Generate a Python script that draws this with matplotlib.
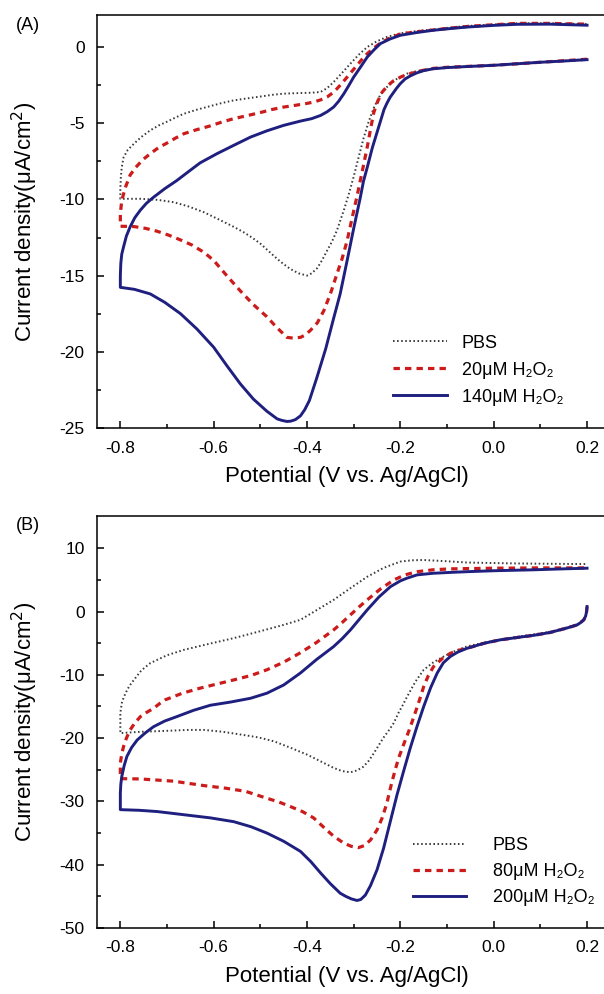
import numpy as np
import matplotlib.pyplot as plt

plt.rcParams['font.family'] = ['Liberation Sans', 'DejaVu Sans']
plt.rcParams['axes.unicode_minus'] = False

# x ticks shared by both panels
x_ticks = [-0.8, -0.6, -0.4, -0.2, 0.0, 0.2]
x_tick_labels = ['-0.8', '-0.6', '-0.4', '-0.2', '0.0', '0.2']

# ---- panel A : each loop runs lower branch 0.2 -> -0.8, then upper branch -0.8 -> 0.2
a_pbs_v = [0.2, 0.1, 0.0, -0.1, -0.129, -0.16, -0.186, -0.208, -0.229, -0.244, -0.257, -0.268,
           -0.279, -0.29, -0.3, -0.31, -0.321, -0.336, -0.347, -0.357, -0.368, -0.378, -0.39,
           -0.4, -0.418, -0.436, -0.45, -0.464, -0.482, -0.5, -0.518, -0.536, -0.557, -0.59,
           -0.621, -0.655, -0.686, -0.72, -0.757, -0.8,
           -0.8, -0.799, -0.797, -0.793, -0.784, -0.771, -0.755, -0.736, -0.718, -0.7, -0.682,
           -0.664, -0.637, -0.61, -0.583, -0.557, -0.528, -0.5, -0.475, -0.45, -0.414, -0.39,
           -0.371, -0.357, -0.343, -0.325, -0.307, -0.289, -0.271, -0.25, -0.229, -0.2, -0.165,
           -0.129, -0.093, -0.057, 0.0, 0.05, 0.12, 0.2]
a_pbs_i = [-0.8, -1.0, -1.2, -1.35, -1.42, -1.55, -1.75, -2.1, -2.63, -3.2, -4.0, -4.9,
           -6.0, -7.3, -8.5, -9.6, -10.7, -12.04, -12.8, -13.36, -14.0, -14.5, -14.85,
           -15.0, -14.85, -14.56, -14.25, -13.9, -13.4, -12.9, -12.5, -12.15, -11.8, -11.3,
           -10.84, -10.45, -10.18, -10.03, -9.96, -9.96,
           -9.3, -8.6, -7.9, -7.23, -6.75, -6.35, -5.9, -5.47, -5.15, -4.9, -4.63,
           -4.38, -4.12, -3.9, -3.68, -3.5, -3.37, -3.25, -3.14, -3.06, -3.02, -3.0,
           -2.95, -2.7, -2.3, -1.7, -1.09, -0.5, 0.0, 0.38, 0.66, 0.9, 1.05,
           1.15, 1.28, 1.38, 1.48, 1.55, 1.56, 1.5]

a_20_v = [0.2, 0.1, 0.0, -0.1, -0.129, -0.155, -0.179, -0.198, -0.214, -0.228, -0.24, -0.249,
          -0.257, -0.264, -0.271, -0.282, -0.293, -0.304, -0.314, -0.325, -0.336, -0.35, -0.364,
          -0.378, -0.393, -0.404, -0.414, -0.43, -0.443, -0.465, -0.486, -0.515, -0.543, -0.572,
          -0.6, -0.621, -0.646, -0.671, -0.696, -0.721, -0.746, -0.771, -0.8,
          -0.8, -0.797, -0.789, -0.779, -0.767, -0.752, -0.736, -0.718, -0.7, -0.682, -0.664,
          -0.637, -0.61, -0.583, -0.557, -0.528, -0.5, -0.475, -0.45, -0.43, -0.414, -0.4,
          -0.386, -0.371, -0.357, -0.346, -0.336, -0.325, -0.314, -0.303, -0.293, -0.282, -0.271,
          -0.257, -0.243, -0.222, -0.2, -0.165, -0.129, -0.093, -0.057, 0.0, 0.05, 0.12, 0.2]
a_20_i = [-0.8, -1.0, -1.2, -1.33, -1.4, -1.55, -1.75, -1.95, -2.2, -2.55, -3.0, -3.6,
          -4.3, -5.4, -6.57, -8.2, -9.8, -11.3, -12.7, -13.9, -14.9, -16.2, -17.3,
          -18.1, -18.6, -18.9, -19.05, -19.1, -19.05, -18.4, -17.7, -16.9, -16.0, -15.0,
          -14.0, -13.47, -13.0, -12.66, -12.35, -12.09, -11.9, -11.78, -11.76,
          -10.95, -10.07, -9.2, -8.4, -7.9, -7.4, -7.0, -6.6, -6.3, -5.98, -5.69,
          -5.43, -5.2, -4.93, -4.7, -4.5, -4.3, -4.1, -3.94, -3.85, -3.77, -3.7,
          -3.61, -3.47, -3.28, -3.03, -2.74, -2.37, -1.97, -1.57, -1.2, -0.8, -0.44,
          -0.07, 0.25, 0.6, 0.85, 1.0, 1.12, 1.24, 1.35, 1.46, 1.55, 1.55, 1.5]

a_140_v = [0.2, 0.15, 0.1, 0.05, 0.0, -0.05, -0.1, -0.13, -0.15, -0.165, -0.179, -0.19, -0.2,
           -0.208, -0.215, -0.222, -0.229, -0.235, -0.24, -0.25, -0.26, -0.271, -0.279, -0.286,
           -0.3, -0.314, -0.329, -0.343, -0.36, -0.379, -0.395, -0.405, -0.414, -0.425, -0.435,
           -0.443, -0.454, -0.464, -0.486, -0.515, -0.543, -0.572, -0.6, -0.636, -0.671, -0.705,
           -0.736, -0.77, -0.8,
           -0.8, -0.799, -0.797, -0.793, -0.787, -0.779, -0.769, -0.757, -0.744, -0.729, -0.705,
           -0.679, -0.655, -0.629, -0.593, -0.557, -0.521, -0.486, -0.45, -0.414, -0.39, -0.371,
           -0.357, -0.343, -0.332, -0.321, -0.31, -0.3, -0.285, -0.271, -0.257, -0.243, -0.222,
           -0.2, -0.165, -0.129, -0.09, -0.057, 0.0, 0.05, 0.12, 0.2]
a_140_i = [-0.83, -0.92, -1.0, -1.1, -1.2, -1.27, -1.35, -1.43, -1.55, -1.7, -1.9, -2.1, -2.4,
           -2.7, -3.0, -3.3, -3.7, -4.1, -4.6, -5.6, -6.6, -7.9, -8.8, -9.9,
           -11.9, -14.0, -16.2, -17.8, -19.8, -21.7, -23.2, -23.8, -24.2, -24.45, -24.55,
           -24.57, -24.5, -24.4, -23.9, -23.1, -22.1, -20.9, -19.7, -18.5, -17.5, -16.75,
           -16.2, -15.9, -15.77,
           -15.0, -14.2, -13.6, -13.1, -12.4, -11.8, -11.2, -10.7, -10.25, -9.86, -9.3,
           -8.76, -8.2, -7.6, -7.0, -6.45, -5.91, -5.5, -5.14, -4.86, -4.7, -4.49,
           -4.25, -3.94, -3.55, -3.06, -2.5, -1.97, -1.3, -0.66, -0.2, 0.22, 0.53,
           0.77, 0.95, 1.1, 1.22, 1.31, 1.42, 1.49, 1.5, 1.43]

# ---- panel B
b_pbs_v = [0.2, 0.199, 0.197, 0.193, 0.186, 0.179, 0.157, 0.121, 0.086, 0.05, 0.014, -0.02,
           -0.057, -0.082, -0.107, -0.129, -0.15, -0.168, -0.186, -0.195, -0.204, -0.214, -0.225,
           -0.236, -0.247, -0.257, -0.268, -0.279, -0.293, -0.307, -0.325, -0.343, -0.37, -0.4,
           -0.436, -0.471, -0.503, -0.536, -0.58, -0.621, -0.655, -0.686, -0.72, -0.757, -0.8,
           -0.8, -0.8, -0.797, -0.795, -0.789, -0.781, -0.771, -0.755, -0.736, -0.7, -0.664,
           -0.61, -0.557, -0.5, -0.45, -0.414, -0.38, -0.343, -0.307, -0.271, -0.236, -0.2,
           -0.175, -0.15, -0.1, -0.057, 0.05, 0.2]
b_pbs_i = [0.79, 0.0, -0.7, -1.3, -1.7, -2.0, -2.5, -3.2, -3.6, -4.0, -4.4, -4.9,
           -5.5, -6.2, -7.1, -8.0, -9.2, -11.1, -13.5, -14.8, -16.0, -17.6, -18.8,
           -19.9, -21.2, -22.4, -23.6, -24.5, -25.1, -25.4, -25.2, -24.7, -23.7, -22.6,
           -21.5, -20.5, -19.9, -19.5, -19.0, -18.7, -18.7, -18.8, -18.9, -19.0, -19.2,
           -17.6, -16.05, -14.5, -14.0, -12.9, -11.8, -10.8, -9.3, -8.15, -6.9, -6.05,
           -5.1, -4.2, -3.1, -2.1, -1.3, 0.2, 1.85, 3.7, 5.5, 6.9, 7.9,
           8.1, 8.15, 7.95, 7.75, 7.6, 7.5]

b_80_v = [0.2, 0.199, 0.197, 0.193, 0.186, 0.179, 0.157, 0.121, 0.086, 0.05, 0.014, -0.02,
          -0.057, -0.077, -0.093, -0.11, -0.129, -0.14, -0.15, -0.16, -0.171, -0.182, -0.193,
          -0.204, -0.211, -0.218, -0.224, -0.229, -0.239, -0.25, -0.264, -0.278, -0.29, -0.305,
          -0.321, -0.343, -0.364, -0.386, -0.41, -0.436, -0.46, -0.486, -0.532, -0.575, -0.621,
          -0.686, -0.757, -0.8,
          -0.8, -0.8, -0.797, -0.793, -0.787, -0.779, -0.769, -0.757, -0.743, -0.729, -0.716,
          -0.704, -0.667, -0.629, -0.593, -0.557, -0.52, -0.486, -0.45, -0.414, -0.38, -0.343,
          -0.325, -0.307, -0.289, -0.271, -0.243, -0.214, -0.19, -0.164, -0.13, -0.093, 0.0,
          0.1, 0.2]
b_80_i = [0.79, 0.0, -0.7, -1.3, -1.75, -2.1, -2.6, -3.3, -3.75, -4.1, -4.47, -5.0,
          -5.8, -6.15, -6.6, -7.4, -8.7, -10.1, -11.85, -14.2, -16.6, -18.9, -21.0,
          -23.2, -25.0, -26.9, -28.7, -30.3, -32.6, -34.5, -36.1, -37.0, -37.3, -37.1,
          -36.6, -35.5, -34.1, -32.6, -31.6, -30.8, -30.1, -29.5, -28.4, -27.9, -27.5,
          -26.8, -26.45, -26.4,
          -25.0, -23.95, -22.5, -21.3, -20.0, -18.7, -17.6, -16.6, -15.9, -15.3, -14.55,
          -13.95, -12.9, -12.1, -11.45, -10.8, -10.1, -9.2, -8.0, -6.5, -4.9, -2.9,
          -1.75, -0.52, 0.7, 1.85, 3.55, 5.0, 5.8, 6.3, 6.6, 6.75, 6.85,
          6.9, 6.9]

b_200_v = [0.2, 0.199, 0.197, 0.193, 0.186, 0.179, 0.157, 0.121, 0.086, 0.05, 0.014, -0.02,
           -0.057, -0.077, -0.093, -0.108, -0.121, -0.135, -0.15, -0.165, -0.179, -0.193, -0.207,
           -0.221, -0.236, -0.25, -0.264, -0.275, -0.285, -0.293, -0.305, -0.317, -0.329, -0.35,
           -0.371, -0.392, -0.414, -0.45, -0.486, -0.52, -0.557, -0.607, -0.664, -0.721, -0.76,
           -0.8,
           -0.8, -0.8, -0.799, -0.797, -0.792, -0.786, -0.776, -0.764, -0.747, -0.729, -0.705,
           -0.679, -0.643, -0.607, -0.564, -0.521, -0.486, -0.45, -0.414, -0.38, -0.343, -0.325,
           -0.307, -0.29, -0.271, -0.246, -0.221, -0.2, -0.186, -0.164, -0.13, -0.09, -0.057,
           0.0, 0.086, 0.15, 0.2]
b_200_i = [0.79, 0.0, -0.7, -1.3, -1.75, -2.1, -2.6, -3.3, -3.75, -4.1, -4.47, -5.0,
           -5.8, -6.4, -7.1, -8.1, -9.7, -12.0, -15.0, -18.3, -21.6, -25.2, -28.9,
           -33.0, -37.4, -40.8, -43.3, -44.8, -45.5, -45.65, -45.4, -45.0, -44.5, -43.0,
           -41.3, -39.5, -37.9, -36.3, -35.0, -34.0, -33.2, -32.6, -32.1, -31.6, -31.4,
           -31.3,
           -30.0, -28.7, -27.3, -26.1, -24.4, -22.9, -21.5, -20.3, -19.2, -18.2, -17.3,
           -16.6, -15.6, -14.8, -14.3, -13.7, -12.9, -11.6, -9.7, -7.6, -5.53, -4.3,
           -2.9, -1.4, 0.27, 2.3, 3.95, 4.85, 5.27, 5.8, 6.05, 6.2, 6.3,
           6.45, 6.6, 6.75, 6.85]

pbs_style = dict(color='#3a3a3a', lw=1.4, ls=(0, (0.8, 1.3)))
red_style = dict(color='#cc1b1b', lw=2.3, ls=(0, (2.0, 1.6)))
blue_style = dict(color='#1f1f80', lw=2.1, ls='-')


def style_axes(ax, yticks, yminor, ylim):
  ax.set_xlim(-0.85, 0.25)
  ax.set_ylim(*ylim)
  ax.set_xticks(x_ticks)
  ax.set_xticklabels(x_tick_labels)
  ax.set_xticks(np.arange(-0.7, 0.25, 0.2), minor=True)
  ax.set_yticks(yticks)
  ax.set_yticklabels([str(t) for t in yticks])
  ax.set_yticks(yminor, minor=True)
  ax.tick_params(which='both', direction='in', top=False, right=False, width=1.1)
  ax.tick_params(which='major', length=5, labelsize=12.5, pad=9)
  ax.tick_params(which='minor', length=3)
  for s in ax.spines.values():
    s.set_linewidth(1.1)
  ax.set_xlabel('Potential (V vs. Ag/AgCl)', fontsize=16)
  ax.set_ylabel('Current density(\u03bcA/cm$^2$)', fontsize=16)
  ax.xaxis.set_label_coords(0.487, -0.093)
  ax.xaxis.label.set_va('top')
  ax.yaxis.set_label_coords(-0.112, 0.5)


fig = plt.figure(figsize=(6.04, 9.94), dpi=100)

ax1 = fig.add_axes([0.1606, 0.5694, 0.85, 0.4155])
ax1.plot(a_pbs_v, a_pbs_i, label='PBS', **pbs_style)
ax1.plot(a_20_v, a_20_i, label='20\u03bcM H\u2082O\u2082', **red_style)
ax1.plot(a_140_v, a_140_i, label='140\u03bcM H\u2082O\u2082', **blue_style)
style_axes(ax1, [-25, -20, -15, -10, -5, 0], np.arange(-22.5, 2, 5), (-25, 2.1))
ax1.legend(loc='center left', bbox_to_anchor=(0.577, 0.14), frameon=False, fontsize=13,
           handlelength=3.0, handletextpad=0.8, labelspacing=0.55, borderpad=0, borderaxespad=0)

ax2 = fig.add_axes([0.1606, 0.0664, 0.85, 0.4148])
ax2.plot(b_pbs_v, b_pbs_i, label='PBS', **pbs_style)
ax2.plot(b_80_v, b_80_i, label='80\u03bcM H\u2082O\u2082', **red_style)
ax2.plot(b_200_v, b_200_i, label='200\u03bcM H\u2082O\u2082', **blue_style)
style_axes(ax2, [-50, -40, -30, -20, -10, 0, 10], np.arange(-45, 15, 10), (-50, 15.15))
ax2.legend(loc='center left', bbox_to_anchor=(0.616, 0.136), frameon=False, fontsize=13,
           handlelength=2.9, handletextpad=1.5, labelspacing=0.5, borderpad=0, borderaxespad=0)

fig.text(28 / 604, 1 - 26 / 994, '(A)', fontsize=13, ha='center', va='center')
fig.text(28 / 604, 1 - 525 / 994, '(B)', fontsize=13, ha='center', va='center')

fig.savefig('out.png', dpi=100)
